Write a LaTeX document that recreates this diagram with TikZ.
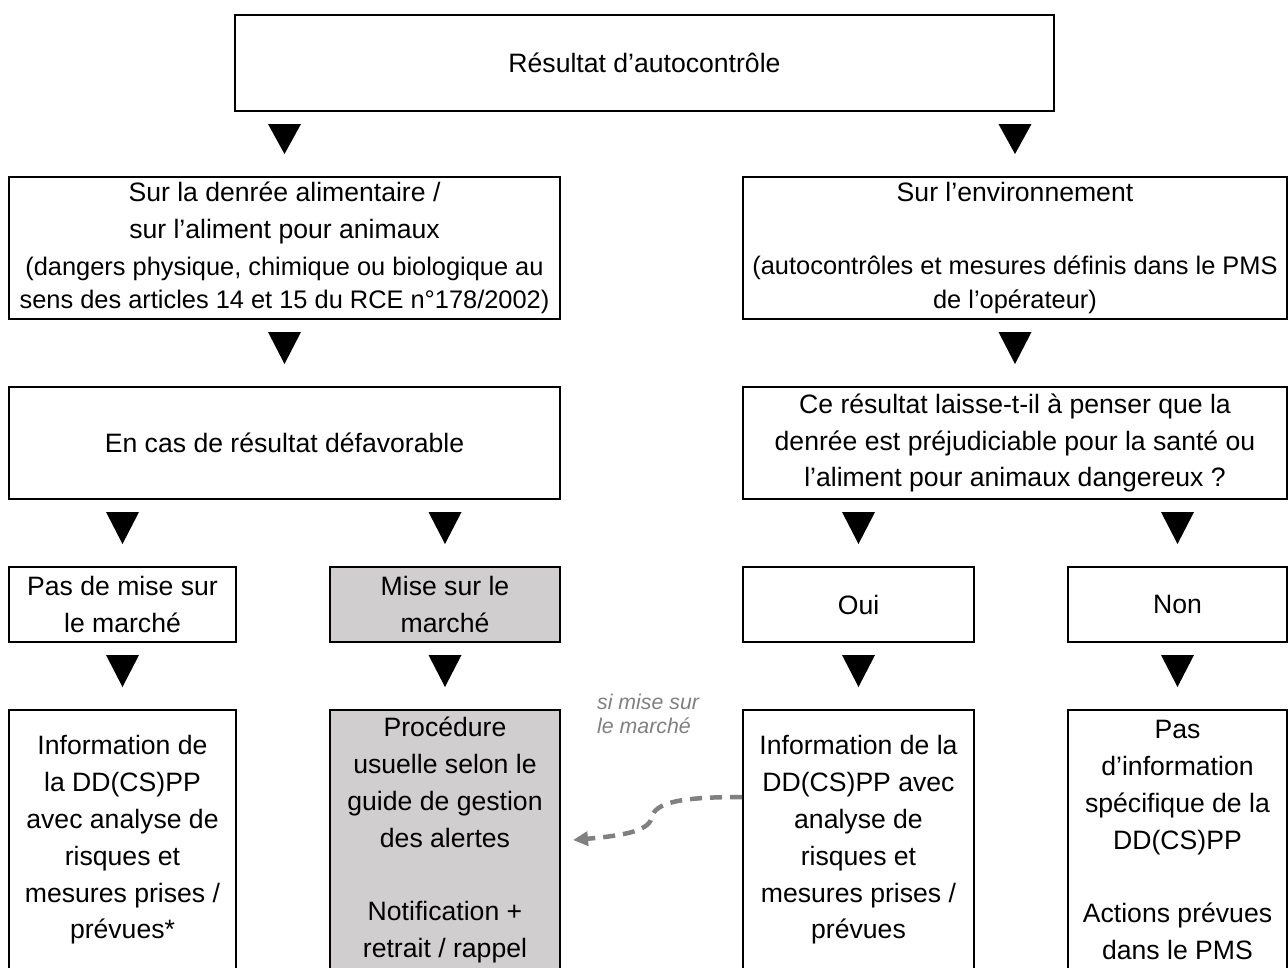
\documentclass[tikz,border=0pt]{standalone}
\usepackage{fontspec}
\setmainfont{Liberation Sans}
\usetikzlibrary{calc,arrows.meta}

\definecolor{boxgray}{RGB}{208,206,206}
\definecolor{notegray}{RGB}{128,128,128}

\tikzstyle{box}=[draw,line width=2pt,inner sep=2pt,align=center,font=\fontsize{26.6}{36.8}\selectfont]
\tikzstyle{grey}=[fill=boxgray]
\tikzstyle{note}=[anchor=north west,inner sep=0pt,align=left,text=notegray,font=\fontsize{21.3}{23.5}\selectfont\itshape]
\newcommand{\smalltxt}{\fontsize{25.4}{34}\selectfont}

\begin{document}
\begin{tikzpicture}[x=1pt,y=-1pt]
\useasboundingbox (0,0) rectangle (1288,967);
\clip (0,0) rectangle (1288,967);

% RESULT
\node[box,minimum width=819pt,minimum height=96pt] (res) at (644.5,63) {Résultat d’autocontrôle};

% FOOD / ENVIRONMENT
\node[box,minimum width=551pt,minimum height=142pt] (food) at (284.5,248) {Sur la denrée alimentaire /\\ sur l’aliment pour animaux\\ {\smalltxt (dangers physique, chimique ou biologique au}\\[-3pt] {\smalltxt sens des articles 14 et 15 du RCE n°178/2002)}};
\node[box,minimum width=544pt,minimum height=142pt] (env) at (1015,248) {Sur l’environnement\\[36pt] {\smalltxt (autocontrôles et mesures définis dans le PMS}\\[-3pt] {\smalltxt de l’opérateur)}};

% UNFAVOURABLE / QUESTION
\node[box,minimum width=551pt,minimum height=112pt] (unfav) at (284.5,443) {En cas de résultat défavorable};
\node[box,minimum width=544pt,minimum height=112pt] (quest) at (1015,443) {Ce résultat laisse-t-il à penser que la\\ denrée est préjudiciable pour la santé ou\\ l’aliment pour animaux dangereux~?};

% MARKET / ANSWER
\node[box,minimum width=227pt,minimum height=75pt] (nomkt) at (122.5,604.5) {Pas de mise sur\\ le marché};
\node[box,grey,minimum width=230pt,minimum height=75pt] (mkt) at (445,604.5) {Mise sur le\\ marché};
\node[box,minimum width=231pt,minimum height=75pt] (yes) at (858.5,604.5) {Oui};
\node[box,minimum width=219pt,minimum height=75pt] (no) at (1177.5,604.5) {Non};

% ACTIONS
\node[box,minimum width=227pt,minimum height=260pt] (info) at (122.5,840) {Information de\\ la DD(CS)PP\\ avec analyse de\\ risques et\\ mesures prises /\\ prévues*};
\node[box,grey,minimum width=230pt,minimum height=260pt] (proc) at (445,840) {Procédure\\ usuelle selon le\\ guide de gestion\\ des alertes\\[36.8pt] Notification +\\ retrait / rappel};
\node[box,minimum width=231pt,minimum height=260pt] (infoy) at (858.5,840) {Information de la\\ DD(CS)PP avec\\ analyse de\\ risques et\\ mesures prises /\\ prévues};
\node[box,minimum width=219pt,minimum height=260pt] (noinfo) at (1177.5,840) {Pas\\ d’information\\ spécifique de la\\ DD(CS)PP\\[36.8pt] Actions prévues\\ dans le PMS};

% TRIANGLES
\foreach \a/\b in {res/food,res/env,food/unfav,env/quest,unfav/nomkt,unfav/mkt,quest/yes,quest/no,nomkt/info,mkt/proc,yes/infoy,no/noinfo}
  \fill ($(\b.north |- \a.south)+(-16.5,12)$) -- ++(33,0) -- ($(\b.north)+(0,-22)$) -- cycle;

% IF ON THE MARKET
\node[note] (cond) at (597,694) {si mise sur\\ le marché};
\draw[notegray,line width=4.5pt,dash pattern=on 12pt off 8pt,-{Triangle[length=15pt,width=14pt]}] ($(infoy.west)+(0,-43)$) .. controls +(-60,0) and +(3,-16) .. ($(proc.east)!0.5!(infoy.west)+(0,-22)$) .. controls +(-3,14) and +(45,-4) .. ($(proc.east)+(12,0)$);

\end{tikzpicture}
\end{document}
